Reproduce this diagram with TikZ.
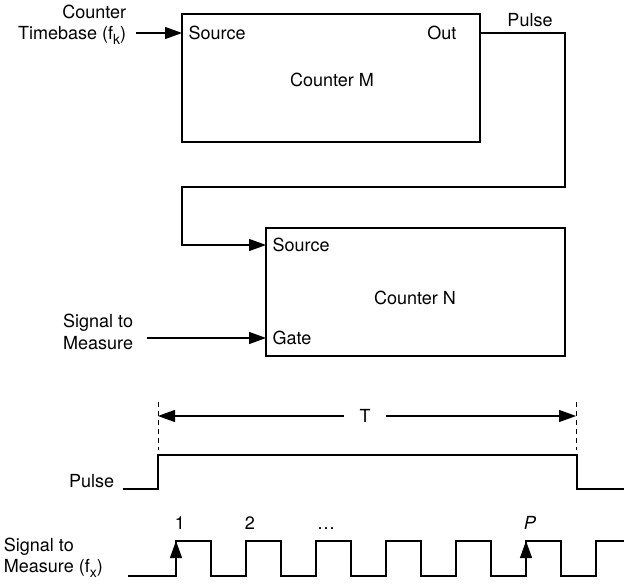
\documentclass[tikz,border=0pt]{standalone}
\usepackage{fontspec}
\setmainfont{TeX Gyre Heros}
\usetikzlibrary{arrows.meta}
\newcommand{\lowsub}[1]{\raisebox{-5pt}{\fontsize{14}{14}\selectfont #1}}

\begin{document}
\begin{tikzpicture}[x=1pt,y=-1pt,line width=1.2pt,>={Triangle[length=17pt,width=12pt]},
  font=\fontsize{18}{21.5}\selectfont,
  blk/.style={draw,rectangle,inner sep=0pt,minimum width=#1,minimum height=128pt},
  port/.style={inner sep=6pt}]
\useasboundingbox (0,0) rectangle (624,585);
% counters
\node[blk=298pt] (boxM) at (331,78) {};
\node[blk=299pt] (boxN) at (415.5,292) {};
\node (lblM) at (332,80) {Counter M};
\node (lblN) at (415,298) {Counter N};
\node[port,anchor=west] (srcM) at (182,33) {Source};
\node[port,anchor=east] (outM) at (463,33) {Out};
\node[port,anchor=west] (srcN) at (266,245) {Source};
\node[port,anchor=west] (gateN) at (266,338) {Gate};
% inputs
\node[align=right,anchor=east] (tbLbl) at (130,25) {Counter\\Timebase (f\lowsub{k})};
\coordinate (tbIn) at (136,33);
\draw[->] (tbIn) -- (srcM.west);
\node[align=right,anchor=east] (sigLbl) at (137,332) {Signal to\\Measure};
\coordinate (sigIn) at (147,338);
\draw[->] (sigIn) -- (gateN.west);
% pulse wire from M to N
\coordinate (w1) at (565,187);
\coordinate (w2) at (182,187);
\draw[->] (outM -| boxM.east) -| (w1) -- (w2) |- (srcN.west);
\node (pulseW) at (530,20) {Pulse};
% timing
\coordinate (tA) at (158,416);
\coordinate (tB) at (576,416);
\draw[line width=1pt,dash pattern=on 5pt off 4pt] (158,402) -- (158,450) (576,402) -- (576,450);
\node[inner xsep=15pt] (tLbl) at (365,416) {T};
\draw[->] (tLbl) -- (tA);
\draw[->] (tLbl) -- (tB);
\node[anchor=east] (pulseLbl) at (118,481) {Pulse};
\draw (123,489) -- (158,489) -- (158,455) -- (577,455) -- (577,489) -- (624,489);
\node[align=left,anchor=west] (sigLbl2) at (0,558) {Signal to\\Measure (f\lowsub{x})};
\draw (128,576) -- (176,576) \foreach \i in {0,...,5}{ -- ++(0,-35) -- ++(35,0) -- ++(0,35) -- ++(35,0)} -- ++(0,-35) -- (624,541);
\draw[->] (176,560) -- (176,541);
\draw[->] (526,560) -- (526,541);
\node[anchor=base] (c1) at (180,529) {1};
\node[anchor=base] (c2) at (250,529) {2};
\node[anchor=base] (cDots) at (326,529) {\dots};
\node[anchor=base] (cP) at (530,529) {\textit{P}};
\end{tikzpicture}
\end{document}
